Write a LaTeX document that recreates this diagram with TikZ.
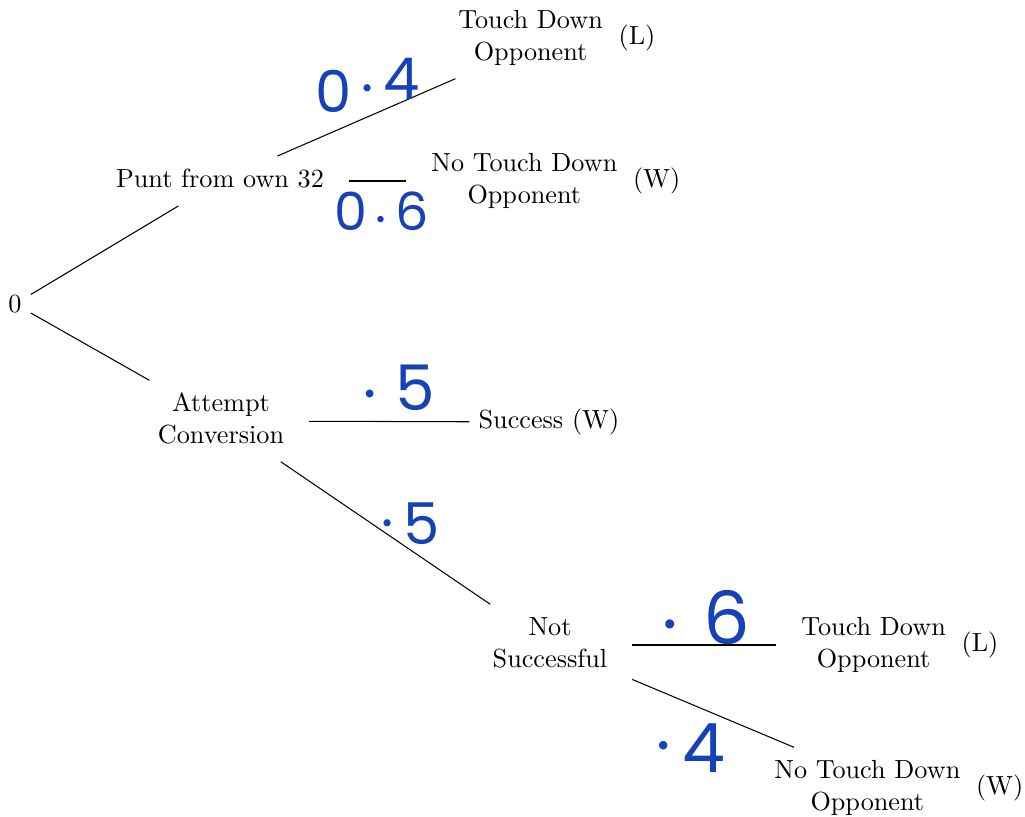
\documentclass[tikz,border=0pt]{standalone}
\usepackage{fontspec}
\newfontfamily\hand{Poppins}
\definecolor{handblue}{RGB}{22,66,184}

\begin{document}
\begin{tikzpicture}[x=0.013414cm, y=0.013414cm,
        main/.style = {draw=none},
        prob/.style = {text=handblue, inner sep=0pt, font=\hand\fontsize{#1}{#1}\selectfont},
        prob/.default = 24]
    \useasboundingbox (0,0) rectangle (1025,-817);

    \node[main] (root)    at (15,-304)  {0};
    \node[main] (punt)    at (220,-181) {\begin{tabular}{c}Punt from own 32\end{tabular}};
    \node[main] (attempt) at (221,-421) {\begin{tabular}{c}Attempt\\Conversion\end{tabular}};

    \node[main] (leafA)   at (549,-38)  {\begin{tabular}{c}Touch Down\\Opponent\end{tabular}(L)};
    \node[main] (leafB)   at (548,-181) {\begin{tabular}{c}No Touch Down\\Opponent\end{tabular}(W)};
    \node[main] (success) at (549,-422) {Success (W)};
    \node[main] (notsucc) at (550,-645) {\begin{tabular}{c}Not\\Successful\end{tabular}};

    \node[main] (leafC)   at (892,-645) {\begin{tabular}{c}Touch Down\\Opponent\end{tabular}(L)};
    \node[main] (leafD)   at (891,-788) {\begin{tabular}{c}No Touch Down\\Opponent\end{tabular}(W)};

    \draw (root) -- (punt);
    \draw (root) -- (attempt);

    \draw (punt) -- node[prob=22, midway, shift={(1,32)}] {0\,\raisebox{8pt}{.}\,\raisebox{5pt}{4}} (leafA);
    \draw (punt) -- node[prob=20, midway, shift={(4,-30)}] {0\,\raisebox{3pt}{.}\,6} (leafB);

    \draw (attempt) -- node[prob=24, midway, shift={(10,34)}] {\raisebox{5pt}{.}\hspace{7pt}5} (success);
    \draw (attempt) -- node[prob=22, midway, shift={(25,9)}] {\raisebox{7pt}{.}\hspace{4pt}5} (notsucc);

    \draw (notsucc) -- node[prob=28, midway, shift={(2,28)}] {\raisebox{6pt}{.}\hspace{10pt}6} (leafC);
    \draw (notsucc) -- node[prob=26, midway, shift={(-22,-35)}] {\raisebox{9pt}{.}\,4} (leafD);
\end{tikzpicture}
\end{document}
